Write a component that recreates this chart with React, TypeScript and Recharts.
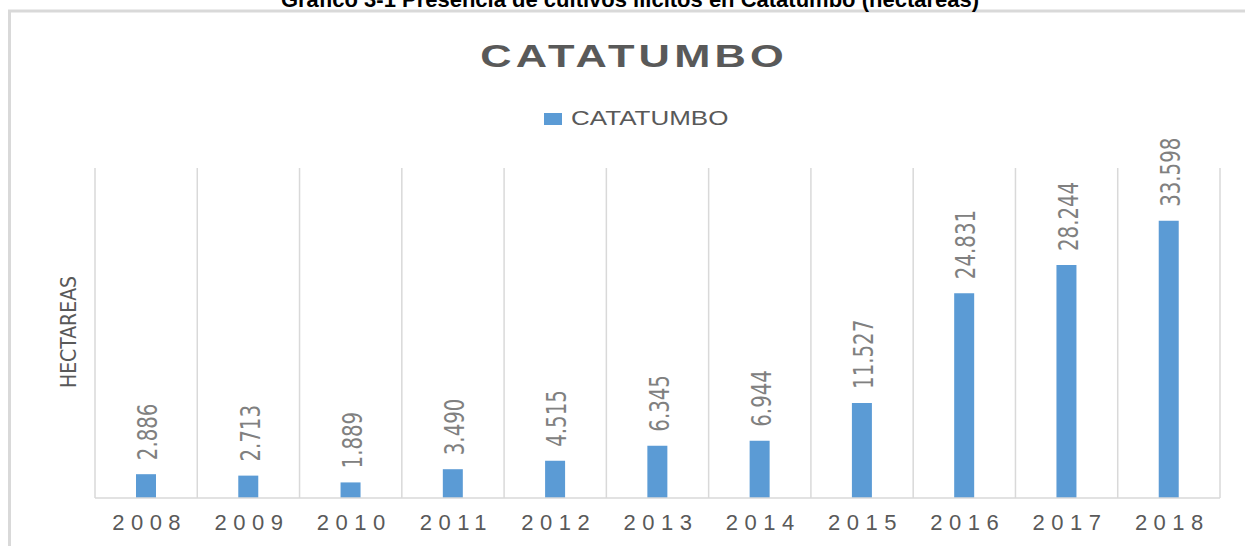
import React from 'react';
import { BarChart, Bar, XAxis, YAxis, CartesianGrid, Legend, LabelList } from 'recharts';

const years = ['2008', '2009', '2010', '2011', '2012', '2013', '2014', '2015', '2016', '2017', '2018'];
const hectares = [2886, 2713, 1889, 3490, 4515, 6345, 6944, 11527, 24831, 28244, 33598];
const yDomain = [0, 40000];

const W = 1245;
const H = 546;
const BLUE = '#5b9bd5';
const GRID = '#d9d9d9';
const TEXT = '#595959';
const NARROW = "'Liberation Sans Narrow', 'DejaVu Sans Condensed', sans-serif";
const SANS = "'Liberation Sans', Arial, sans-serif";

const data = years.map((year, i) => ({ year, CATATUMBO: hectares[i] }));

// miles con punto, como en el original
const fmt = (n: number) => String(n).replace(/\B(?=(\d{3})+(?!\d))/g, '.');

const ValueLabel = (props: any) => {
  const { x, y, width, value } = props;
  const cx = Number(x) + Number(width) / 2 + 2;
  const by = Number(y) - 14;
  return (
    <text
      transform={`translate(${cx},${by}) rotate(-90) scale(1,1.2)`}
      x={0}
      y={0}
      textAnchor="start"
      dominantBaseline="central"
      fontFamily={NARROW}
      fontSize={22}
      fill="#808080"
    >
      {fmt(value)}
    </text>
  );
};

const YearTick = (props: any) => {
  const { x, y, payload } = props;
  return (
    <text x={x + 3.5} y={y + 24} textAnchor="middle" fontFamily={SANS} fontSize={22} letterSpacing={6.5} fill={TEXT}>
      {payload.value}
    </text>
  );
};

const LegendBox = () => (
  <svg width={W} height={30} style={{ display: 'block' }}>
    <rect x={544} y={13} width={18} height={12} fill={BLUE} />
    <text transform="translate(571,25) scale(1.3,1)" fontFamily={SANS} fontSize={20} fill={TEXT}>
      CATATUMBO
    </text>
  </svg>
);

export default function App() {
  return (
    <div style={{ position: 'absolute', left: 0, top: 0, width: W, height: H, background: '#fff', overflow: 'hidden' }}>
      <BarChart
        width={W}
        height={H}
        data={data}
        margin={{ top: 168, right: 25, bottom: 18, left: 95 }}
        barSize={20}
      >
        <CartesianGrid
          horizontal={false}
          stroke={GRID}
          strokeWidth={1.5}
          verticalCoordinatesGenerator={({ offset }: any) =>
            Array.from({ length: years.length + 1 }, (_, i) => offset.left + (offset.width * i) / years.length)
          }
        />
        <XAxis
          dataKey="year"
          height={30}
          axisLine={{ stroke: GRID, strokeWidth: 1.5 }}
          tickLine={false}
          tick={<YearTick />}
          interval={0}
        />
        <YAxis hide domain={yDomain} />
        <Legend
          layout="horizontal"
          verticalAlign="middle"
          align="center"
          wrapperStyle={{ top: 100, left: 0, width: W }}
          content={() => <LegendBox />}
        />
        <Bar dataKey="CATATUMBO" fill={BLUE} isAnimationActive={false}>
          <LabelList dataKey="CATATUMBO" content={<ValueLabel />} />
        </Bar>
      </BarChart>
      <svg width={W} height={H} style={{ position: 'absolute', left: 0, top: 0, pointerEvents: 'none' }}>
        <rect x={9.5} y={11} width={W + 20} height={H} fill="none" stroke={GRID} strokeWidth={3} />
        <text x={630} y={7} textAnchor="middle" fontFamily={SANS} fontWeight="bold" fontSize={22} fill="#000">
          Gráfico 3-1 Presencia de cultivos ilícitos en Catatumbo (hectáreas)
        </text>
        <text
          transform="translate(632,67) scale(1.4,1)"
          textAnchor="middle"
          fontFamily={SANS}
          fontWeight="bold"
          fontSize={31}
          letterSpacing={3}
          fill={TEXT}
          dx={1.5}
        >
          CATATUMBO
        </text>
        <text
          transform="translate(69,332) rotate(-90)"
          textAnchor="middle"
          dominantBaseline="central"
          fontFamily={NARROW}
          fontSize={21}
          fill={TEXT}
        >
          HECTAREAS
        </text>
      </svg>
    </div>
  );
}
